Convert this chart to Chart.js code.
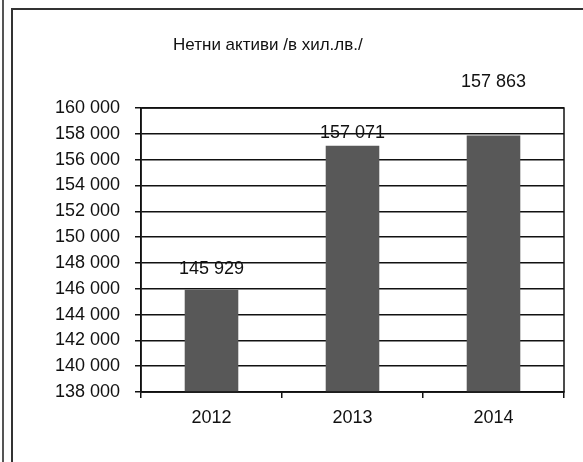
<!DOCTYPE html>
<html>
<head>
<meta charset="utf-8">
<script src="https://cdn.jsdelivr.net/npm/chart.js@4"></script>
<style>
    body { margin: 0; background: #fff; }
    #wrap { position: relative; width: 583px; height: 462px; overflow: hidden; }
    #grafik { position: absolute; left: 0; top: 0; }
    .ramka1 { position: absolute; left: 2px; top: 0; width: 2px; height: 462px; background: #555; }
    .ramka2 { position: absolute; left: 11px; top: 8px; right: 0; bottom: 0; border-left: 2px solid #333; border-top: 2px solid #333; }
</style>
</head>
<body>
<div id="wrap">
    <canvas id="grafik" width="583" height="462"></canvas>
    <div class="ramka1"></div>
    <div class="ramka2"></div>
</div>
<script>
const godini = ['2012', '2013', '2014'];
const aktivi = [145929, 157071, 157863];
const yMin = 138000;
const yMax = 160000;
const yStep = 2000;
const zaglavie = 'Нетни активи /в хил.лв./';

// how far above each bar top the value label sits (as in the scan)
const labelLift = [21, 13, 54];

const shrift = '"Liberation Sans", Arial, sans-serif';

function fmt(v) {
    return String(v).replace(/\B(?=(\d{3})+(?!\d))/g, ' ');
}

const ramkaPlugin = {
    id: 'ramka',
    afterDraw(chart) {
        const ctx = chart.ctx;
        const a = chart.chartArea;
        ctx.save();
        ctx.strokeStyle = '#111';
        ctx.lineWidth = 1.5;
        ctx.strokeRect(a.left, a.top, a.right - a.left, a.bottom - a.top);
        ctx.fillStyle = '#111';
        ctx.textAlign = 'center';
        ctx.textBaseline = 'middle';
        // title, sits a bit left of the plot centre in the scan
        ctx.font = '17px ' + shrift;
        ctx.fillText(zaglavie, a.left + (a.right - a.left) * 0.3, 45);
        // value labels
        ctx.font = '18px ' + shrift;
        const meta = chart.getDatasetMeta(0);
        meta.data.forEach((bar, i) => {
            ctx.fillText(fmt(aktivi[i]), bar.x, bar.y - labelLift[i]);
        });
        ctx.restore();
    }
};

let bar = new Chart(document.getElementById("grafik"), {
    type: 'bar',
    data: {
        labels: godini,
        datasets: [{
            label: 'Нетни активи',
            data: aktivi,
            backgroundColor: '#585858',
            barPercentage: 0.38,
            categoryPercentage: 1
        }]
    },
    options: {
        responsive: false,
        animation: false,
        layout: {
            padding: { left: 20, right: 19, top: 108, bottom: 0 }
        },
        plugins: {
            legend: { display: false },
            tooltip: { enabled: false },
            title: { display: false }
        },
        scales: {
            x: {
                grid: { drawOnChartArea: false, tickLength: 6, color: '#111', lineWidth: 1.5 },
                border: { color: '#111', width: 1.5 },
                ticks: {
                    color: '#111',
                    padding: 9,
                    font: { family: shrift, size: 18 }
                },
                afterFit(scale) { scale.height = 70; }
            },
            y: {
                min: yMin,
                max: yMax,
                grid: { color: '#111', lineWidth: 1.5, tickLength: 6 },
                border: { color: '#111', width: 1.5 },
                ticks: {
                    stepSize: yStep,
                    color: '#111',
                    padding: 15,
                    font: { family: shrift, size: 18 },
                    callback: v => fmt(v)
                },
                afterFit(scale) { scale.width = 121; }
            }
        }
    },
    plugins: [ramkaPlugin]
});
</script>
</body>
</html>
